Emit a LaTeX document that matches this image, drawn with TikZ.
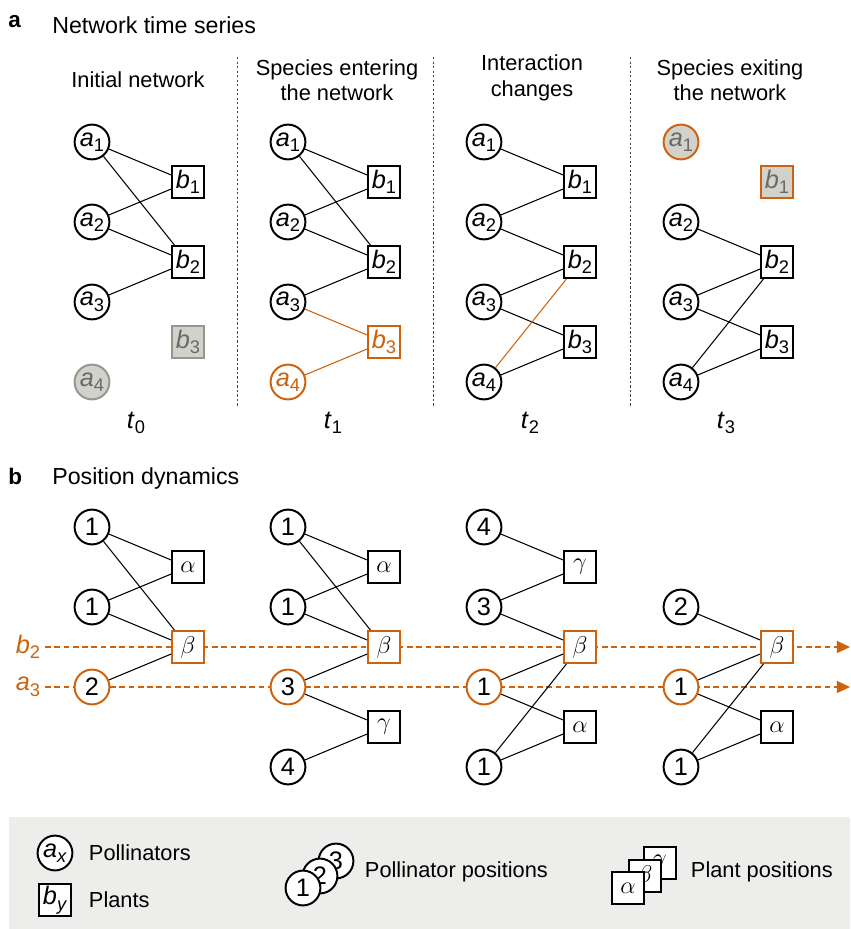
\documentclass[tikz,border=0pt]{standalone}
\usepackage{fontspec}
\setmainfont{Liberation Sans}
\usepackage{xcolor}
\usepackage{tikz}
\usetikzlibrary{arrows.meta, positioning}

\definecolor{moveorange}{RGB}{206,98,12}
\definecolor{fadefill}{RGB}{210,210,203}
\definecolor{fadeline}{RGB}{150,150,145}
\definecolor{fadetext}{RGB}{105,105,105}
\definecolor{legendbg}{RGB}{237,237,235}

\newcommand{\taxon}[2]{\textit{#1}\raisebox{-0.22em}{\fontsize{13}{13}\selectfont #2}}

\begin{document}
\begin{tikzpicture}[
  x=0.025cm, y=-0.025cm,
  font=\fontsize{15.5}{18}\selectfont,
  poll/.style={circle, draw, line width=1.4pt, fill=white, minimum size=0.87cm, inner sep=0pt, font=\fontsize{18}{20}\selectfont},
  plant/.style={rectangle, draw, line width=1.4pt, fill=white, minimum size=0.8cm, inner sep=0pt, font=\fontsize{18}{20}\selectfont},
  entering/.style={draw=moveorange, text=moveorange},
  faded/.style={draw=fadeline, fill=fadefill, text=fadetext},
  exiting/.style={draw=moveorange, fill=fadefill, text=fadetext},
  tracked/.style={draw=moveorange},
  link/.style={line width=0.75pt},
  newlink/.style={link, draw=moveorange},
  track/.style={draw=moveorange, line width=1.4pt, dash pattern=on 4pt off 2.6pt, -{Triangle[length=0.33cm, width=0.3cm]}},
  divider/.style={draw=black!75, line width=0.6pt, dash pattern=on 1.6pt off 1.6pt},
  heading/.style={align=center},
  stamp/.style={anchor=base, font=\fontsize{18}{20}\selectfont},
  panel/.style={anchor=base west, inner sep=0pt}
]
\useasboundingbox (0,0) rectangle (850,929);

% Panel a: network time series
\node[panel, font=\bfseries\fontsize{16}{19}\selectfont] (pa) at (8,27) {a};
\node[panel, font=\fontsize{16.5}{19}\selectfont] (patitle) at (52,33) {Network time series};

\node[heading] (h0) at (138,80) {Initial network};
\node[heading] (h1) at (337,80) {Species entering\\the network};
\node[heading] (h2) at (532,78) {Interaction\\changes};
\node[heading] (h3) at (730,80) {Species exiting\\the network};

\draw[divider] (237,57) -- (237,407);
\draw[divider] (433,57) -- (433,407);
\draw[divider] (630,57) -- (630,407);

% t0
\node[poll] (t0a1) at (92,142) {\taxon{a}{1}};
\node[poll] (t0a2) at (92,222) {\taxon{a}{2}};
\node[poll] (t0a3) at (92,302) {\taxon{a}{3}};
\node[poll, faded] (t0a4) at (92,382) {\taxon{a}{4}};
\node[plant] (t0b1) at (188,182) {\taxon{b}{1}};
\node[plant] (t0b2) at (188,262) {\taxon{b}{2}};
\node[plant, faded] (t0b3) at (188,342) {\taxon{b}{3}};
\draw[link] (t0a1) -- (t0b1);
\draw[link] (t0a1) -- (t0b2);
\draw[link] (t0a2) -- (t0b1);
\draw[link] (t0a2) -- (t0b2);
\draw[link] (t0a3) -- (t0b2);

% t1
\node[poll] (t1a1) at (288,142) {\taxon{a}{1}};
\node[poll] (t1a2) at (288,222) {\taxon{a}{2}};
\node[poll] (t1a3) at (288,302) {\taxon{a}{3}};
\node[poll, entering] (t1a4) at (288,382) {\taxon{a}{4}};
\node[plant] (t1b1) at (384,182) {\taxon{b}{1}};
\node[plant] (t1b2) at (384,262) {\taxon{b}{2}};
\node[plant, entering] (t1b3) at (384,342) {\taxon{b}{3}};
\draw[link] (t1a1) -- (t1b1);
\draw[link] (t1a1) -- (t1b2);
\draw[link] (t1a2) -- (t1b1);
\draw[link] (t1a2) -- (t1b2);
\draw[link] (t1a3) -- (t1b2);
\draw[newlink] (t1a3) -- (t1b3);
\draw[newlink] (t1a4) -- (t1b3);

% t2
\node[poll] (t2a1) at (484,142) {\taxon{a}{1}};
\node[poll] (t2a2) at (484,222) {\taxon{a}{2}};
\node[poll] (t2a3) at (484,302) {\taxon{a}{3}};
\node[poll] (t2a4) at (484,382) {\taxon{a}{4}};
\node[plant] (t2b1) at (580,182) {\taxon{b}{1}};
\node[plant] (t2b2) at (580,262) {\taxon{b}{2}};
\node[plant] (t2b3) at (580,342) {\taxon{b}{3}};
\draw[link] (t2a1) -- (t2b1);
\draw[link] (t2a2) -- (t2b1);
\draw[link] (t2a2) -- (t2b2);
\draw[link] (t2a3) -- (t2b2);
\draw[link] (t2a3) -- (t2b3);
\draw[link] (t2a4) -- (t2b3);
\draw[newlink] (t2a4) -- (t2b2);

% t3
\node[poll, exiting] (t3a1) at (681,142) {\taxon{a}{1}};
\node[poll] (t3a2) at (681,222) {\taxon{a}{2}};
\node[poll] (t3a3) at (681,302) {\taxon{a}{3}};
\node[poll] (t3a4) at (681,382) {\taxon{a}{4}};
\node[plant, exiting] (t3b1) at (777,182) {\taxon{b}{1}};
\node[plant] (t3b2) at (777,262) {\taxon{b}{2}};
\node[plant] (t3b3) at (777,342) {\taxon{b}{3}};
\draw[link] (t3a2) -- (t3b2);
\draw[link] (t3a3) -- (t3b2);
\draw[link] (t3a3) -- (t3b3);
\draw[link] (t3a4) -- (t3b3);
\draw[link] (t3a4) -- (t3b2);

\node[stamp] (lab0) at (136,428) {\taxon{t}{0}};
\node[stamp] (lab1) at (333,428) {\taxon{t}{1}};
\node[stamp] (lab2) at (530,428) {\taxon{t}{2}};
\node[stamp] (lab3) at (726,428) {\taxon{t}{3}};

% Panel b: position dynamics
\node[panel, font=\bfseries\fontsize{16}{19}\selectfont] (pb) at (8,484) {b};
\node[panel, font=\fontsize{16.5}{19}\selectfont] (pbtitle) at (52,484) {Position dynamics};

% tracks of b2 and a3 (behind the nodes)
\node[text=moveorange, font=\fontsize{18}{20}\selectfont] (lblb) at (28,647) {\taxon{b}{2}};
\node[text=moveorange, font=\fontsize{18}{20}\selectfont] (lbla) at (28,687) {\taxon{a}{3}};
\coordinate (endb) at (850,647);
\coordinate (enda) at (850,687);
\draw[track] (lblb) -- (endb);
\draw[track] (lbla) -- (enda);

% step 1
\node[poll] (s1r1) at (92,527) {1};
\node[poll] (s1r3) at (92,607) {1};
\node[poll, tracked] (s1r5) at (92,687) {2};
\node[plant] (s1r2) at (188,567) {$\alpha$};
\node[plant, tracked] (s1r4) at (188,647) {$\beta$};
\draw[link] (s1r1) -- (s1r2);
\draw[link] (s1r1) -- (s1r4);
\draw[link] (s1r3) -- (s1r2);
\draw[link] (s1r3) -- (s1r4);
\draw[link] (s1r5) -- (s1r4);

% step 2
\node[poll] (s2r1) at (288,527) {1};
\node[poll] (s2r3) at (288,607) {1};
\node[poll, tracked] (s2r5) at (288,687) {3};
\node[poll] (s2r7) at (288,767) {4};
\node[plant] (s2r2) at (384,567) {$\alpha$};
\node[plant, tracked] (s2r4) at (384,647) {$\beta$};
\node[plant] (s2r6) at (384,727) {$\gamma$};
\draw[link] (s2r1) -- (s2r2);
\draw[link] (s2r1) -- (s2r4);
\draw[link] (s2r3) -- (s2r2);
\draw[link] (s2r3) -- (s2r4);
\draw[link] (s2r5) -- (s2r4);
\draw[link] (s2r5) -- (s2r6);
\draw[link] (s2r7) -- (s2r6);

% step 3
\node[poll] (s3r1) at (484,527) {4};
\node[poll] (s3r3) at (484,607) {3};
\node[poll, tracked] (s3r5) at (484,687) {1};
\node[poll] (s3r7) at (484,767) {1};
\node[plant] (s3r2) at (580,567) {$\gamma$};
\node[plant, tracked] (s3r4) at (580,647) {$\beta$};
\node[plant] (s3r6) at (580,727) {$\alpha$};
\draw[link] (s3r1) -- (s3r2);
\draw[link] (s3r3) -- (s3r2);
\draw[link] (s3r3) -- (s3r4);
\draw[link] (s3r5) -- (s3r4);
\draw[link] (s3r5) -- (s3r6);
\draw[link] (s3r7) -- (s3r4);
\draw[link] (s3r7) -- (s3r6);

% step 4
\node[poll] (s4r3) at (681,607) {2};
\node[poll, tracked] (s4r5) at (681,687) {1};
\node[poll] (s4r7) at (681,767) {1};
\node[plant, tracked] (s4r4) at (777,647) {$\beta$};
\node[plant] (s4r6) at (777,727) {$\alpha$};
\draw[link] (s4r3) -- (s4r4);
\draw[link] (s4r5) -- (s4r4);
\draw[link] (s4r5) -- (s4r6);
\draw[link] (s4r7) -- (s4r4);
\draw[link] (s4r7) -- (s4r6);

% Legend
\fill[legendbg] (9,817) rectangle (850,929);
\node[poll] (keya) at (55,853) {\taxon{a}{\textit{x}}};
\node[anchor=west] (keyatext) at (84,853) {Pollinators};
\node[plant] (keyb) at (55,900) {\taxon{b}{\textit{y}}};
\node[anchor=west] (keybtext) at (84,900) {Plants};

\node[poll] (keyp3) at (336,861) {3};
\node[poll] (keyp2) at (320,876) {2};
\node[poll] (keyp1) at (303,888) {1};
\node[anchor=west] (keyptext) at (360,872) {Pollinator positions};

\node[plant] (keyq3) at (660,863) {$\gamma$};
\node[plant] (keyq2) at (645,876) {$\beta$};
\node[plant] (keyq1) at (628,888) {$\alpha$};
\node[anchor=west] (keyqtext) at (686,872) {Plant positions};

\end{tikzpicture}
\end{document}
